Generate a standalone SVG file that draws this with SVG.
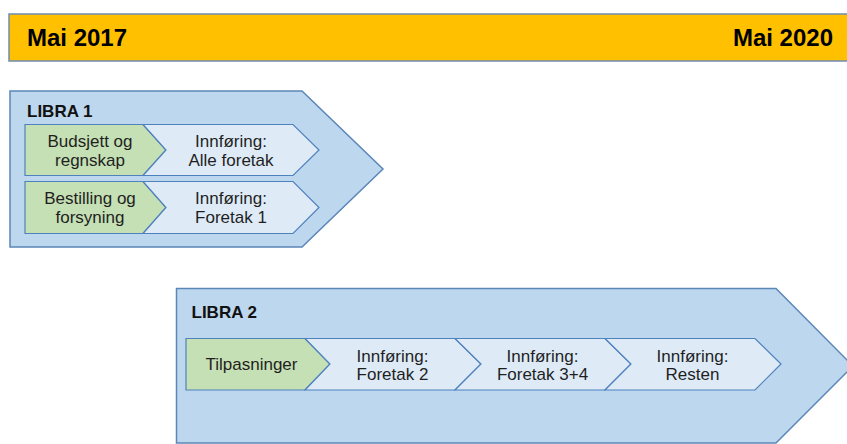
<svg xmlns="http://www.w3.org/2000/svg" width="847" height="444" viewBox="0 0 847 444">
  <style>
    .bar { fill: #FFC000; stroke: #6F8DB3; stroke-width: 1.5; }
    .outer { fill: #BDD7EE; stroke: #5B86B8; stroke-width: 1.5; }
    .green { fill: #C5E0B4; stroke: #4F81BD; stroke-width: 1.2; }
    .step { fill: #DEEBF7; stroke: #4F81BD; stroke-width: 1.2; }
    .hdr { font-family: "Liberation Sans", Arial, sans-serif; font-weight: bold; font-size: 24px; fill: #000; }
    .title { font-family: "Liberation Sans", Arial, sans-serif; font-weight: bold; font-size: 17px; fill: #111; }
    .lbl { font-family: "Liberation Sans", Arial, sans-serif; font-size: 17px; fill: #1F1F1F; text-anchor: middle; }
  </style>
  <rect width="847" height="444" fill="#FFFFFF"/>

  <g id="timeline">
    <rect class="bar" x="9" y="14" width="845" height="47"/>
    <text class="hdr" x="27" y="46">Mai 2017</text>
    <text class="hdr" x="833" y="46" text-anchor="end">Mai 2020</text>
  </g>

  <g id="libra1">
    <polygon class="outer" points="10,91 302,91 383,169 302,247 10,247"/>
    <text class="title" x="27" y="117">LIBRA 1</text>
  </g>

  <g id="l1-budsjett">
    <polygon class="green" points="25,124.5 143,124.5 166,150 143,175.5 25,175.5"/>
    <text class="lbl" x="90" y="146.5">Budsjett og</text>
    <text class="lbl" x="90" y="165.5">regnskap</text>
  </g>
  <g id="l1-innforing-alle">
    <polygon class="step" points="143,124.5 293,124.5 319,150 293,175.5 143,175.5 166,150"/>
    <text class="lbl" x="231" y="146.5">Innføring:</text>
    <text class="lbl" x="231" y="165.5">Alle foretak</text>
  </g>
  <g id="l1-bestilling">
    <polygon class="green" points="25,181.5 143,181.5 166,207.5 143,233.5 25,233.5"/>
    <text class="lbl" x="90" y="204">Bestilling og</text>
    <text class="lbl" x="90" y="223">forsyning</text>
  </g>
  <g id="l1-innforing-1">
    <polygon class="step" points="143,181.5 293,181.5 319,207.5 293,233.5 143,233.5 166,207.5"/>
    <text class="lbl" x="231" y="204">Innføring:</text>
    <text class="lbl" x="231" y="223">Foretak 1</text>
  </g>

  <g id="libra2">
    <polygon class="outer" points="176.5,288.5 776,288.5 853,366 776,443 176.5,443"/>
    <text class="title" x="191.5" y="318">LIBRA 2</text>
  </g>

  <g id="l2-tilpasninger">
    <polygon class="green" points="186,338.5 305,338.5 330,364 305,390 186,390"/>
    <text class="lbl" x="251.5" y="370">Tilpasninger</text>
  </g>
  <g id="l2-innforing-2">
    <polygon class="step" points="305,338.5 455,338.5 481,364 455,390 305,390 330,364"/>
    <text class="lbl" x="392.5" y="361.5">Innføring:</text>
    <text class="lbl" x="392.5" y="380">Foretak 2</text>
  </g>
  <g id="l2-innforing-34">
    <polygon class="step" points="455,338.5 605,338.5 631,364 605,390 455,390 481,364"/>
    <text class="lbl" x="542.5" y="361.5">Innføring:</text>
    <text class="lbl" x="542.5" y="380">Foretak 3+4</text>
  </g>
  <g id="l2-innforing-resten">
    <polygon class="step" points="605,338.5 755,338.5 781,364 755,390 605,390 631,364"/>
    <text class="lbl" x="692.5" y="361.5">Innføring:</text>
    <text class="lbl" x="692.5" y="380">Resten</text>
  </g>

  <g id="connectors"></g>
</svg>
